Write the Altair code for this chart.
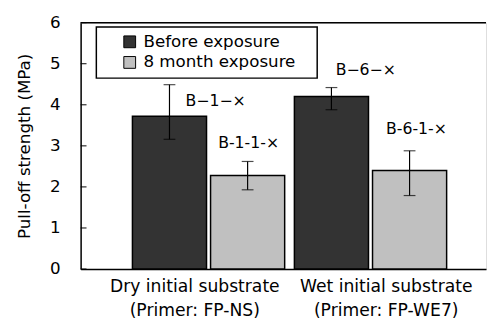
import altair as alt
import pandas as pd

FONT = "DejaVu Sans"

# ---- data ----
groups = ["Dry initial substrate\n(Primer: FP-NS)", "Wet initial substrate\n(Primer: FP-WE7)"]
series = ["Before exposure", "8 month exposure"]
colors = ["#333333", "#c0c0c0"]

bar_group = [groups[0], groups[0], groups[1], groups[1]]
bar_series = [series[0], series[1], series[0], series[1]]
bar_value = [3.72, 2.28, 4.20, 2.40]
err_low = [3.16, 1.93, 3.88, 1.79]
err_high = [4.49, 2.62, 4.42, 2.88]

ann_text = ["B\u22121\u2212\u00d7", "B-1-1-\u00d7", "B\u22126\u2212\u00d7", "B-6-1-\u00d7"]
ann_y = [4.08, 3.06, 4.85, 3.42]
ann_dx = [47, 1, 35, 7]

y_ticks = [0, 1, 2, 3, 4, 5, 6]

W, H = 413, 251

df = pd.DataFrame({
    "group": bar_group, "series": bar_series, "value": bar_value,
    "low": err_low, "high": err_high, "label": ann_text, "label_y": ann_y,
})

x_enc = alt.X("group:N", sort=groups, title=None,
              scale=alt.Scale(paddingInner=0.06, paddingOuter=0.2815, align=0.568),
              axis=alt.Axis(labelExpr="split(datum.label, '\\n')", labelAngle=0,
                            labelOffset={"condition": {"test": "indexof(datum.label, 'Dry') >= 0", "value": -14},
                                         "value": 16},
                            labelFont=FONT, labelFontSize=17.5, labelColor="black",
                            labelLineHeight=24, labelPadding=9, ticks=False,
                            domainColor="black", domainWidth=1.5))
xo_enc = alt.XOffset("series:N", sort=series,
                     scale=alt.Scale(paddingInner=0.0516, paddingOuter=0))
y_scale = alt.Scale(domain=[0, 6], nice=False)
y_enc = alt.Y("value:Q", scale=y_scale,
              axis=alt.Axis(values=y_ticks, grid=False, tickSize=0, labelPadding=21,
                            labelFont=FONT, labelFontSize=17, labelColor="black",
                            domainColor="black", domainWidth=1.5,
                            title="Pull-off strength (MPa)", titleFont=FONT,
                            titleFontSize=17, titleFontWeight="normal",
                            titleColor="black", titlePadding=16))

base = alt.Chart(df)

bars = base.mark_bar(stroke="black", strokeWidth=1.5).encode(
    x=x_enc, xOffset=xo_enc, y=y_enc,
    fill=alt.Fill("series:N", sort=series,
                  scale=alt.Scale(domain=series, range=colors), legend=None),
)

err = base.mark_rule(color="black", strokeWidth=1.2).encode(
    x=alt.X("group:N", sort=groups), xOffset=alt.XOffset("series:N", sort=series),
    y=alt.Y("low:Q", scale=y_scale), y2="high:Q",
)
cap_hi = base.mark_tick(color="black", size=12, thickness=1.2).encode(
    x=alt.X("group:N", sort=groups), xOffset=alt.XOffset("series:N", sort=series),
    y=alt.Y("high:Q", scale=y_scale),
)
cap_lo = base.mark_tick(color="black", size=12, thickness=1.2).encode(
    x=alt.X("group:N", sort=groups), xOffset=alt.XOffset("series:N", sort=series),
    y=alt.Y("low:Q", scale=y_scale),
)

anns = []
for i in range(len(ann_text)):
    anns.append(
        base.transform_filter(alt.datum.label == ann_text[i])
        .mark_text(font=FONT, fontSize=16, color="black", dx=ann_dx[i], baseline="middle")
        .encode(
            x=alt.X("group:N", sort=groups), xOffset=alt.XOffset("series:N", sort=series),
            y=alt.Y("label_y:Q", scale=y_scale), text="label:N",
        )
    )

tick_df = pd.DataFrame({"v": y_ticks})
inner_ticks = alt.Chart(tick_df).mark_rule(color="black", strokeWidth=1).encode(
    y=alt.Y("v:Q", scale=y_scale), x=alt.value(0), x2=alt.value(6)
)

one = pd.DataFrame({"k": [0]})
top_line = alt.Chart(one).mark_rule(color="black", strokeWidth=1.5).encode(
    x=alt.value(0), x2=alt.value(W), y=alt.value(0)
)

# legend (drawn box)
leg_box = alt.Chart(one).mark_rect(fill="white", stroke="black", strokeWidth=1.5).encode(
    x=alt.value(16), x2=alt.value(241), y=alt.value(4.5), y2=alt.value(56.5)
)
leg_items = []
for i, s in enumerate(series):
    yy = 19.5 + 21 * i
    leg_items.append(alt.Chart(one).mark_square(size=144, fill=colors[i], stroke="black",
                                                strokeWidth=1, opacity=1).encode(
        x=alt.value(50), y=alt.value(yy)))
    leg_items.append(alt.Chart(one).mark_text(text=s, font=FONT, fontSize=17, color="black",
                                              align="left", baseline="middle").encode(
        x=alt.value(64), y=alt.value(yy)))

chart = alt.layer(
    bars, err, cap_hi, cap_lo, *anns, inner_ticks, top_line, leg_box, *leg_items
).properties(
    width=W, height=H,
    padding={"left": 8, "top": 3, "right": 0, "bottom": 0},
).configure_view(stroke=None).configure(background="white")

chart.save("out.html", embed_options={"renderer": "svg", "actions": False})
